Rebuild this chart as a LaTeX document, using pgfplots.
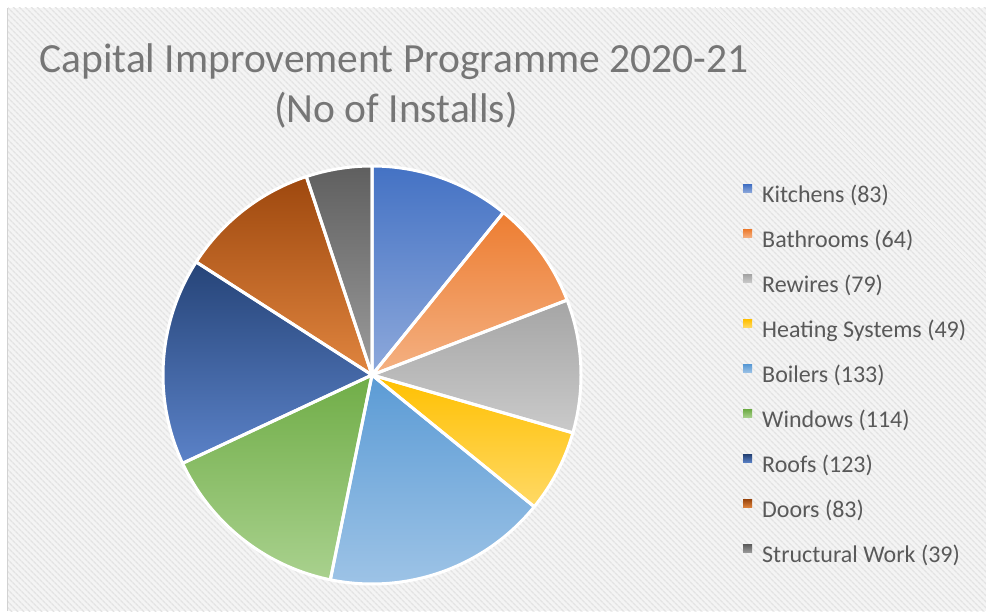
\documentclass[border=0pt]{standalone}
\usepackage{pgfplots}
\pgfplotsset{compat=1.18}
\usepackage{pgfplotstable}
\usepackage{fontspec}
\setmainfont{Carlito}
\usetikzlibrary{patterns.meta}

\definecolor{c0t}{HTML}{4472C4}\definecolor{c0b}{HTML}{8EA9DB}
\definecolor{c1t}{HTML}{ED7D31}\definecolor{c1b}{HTML}{F4B183}
\definecolor{c2t}{HTML}{A5A5A5}\definecolor{c2b}{HTML}{CACACA}
\definecolor{c3t}{HTML}{FFC000}\definecolor{c3b}{HTML}{FFD966}
\definecolor{c4t}{HTML}{5B9BD5}\definecolor{c4b}{HTML}{9DC3E6}
\definecolor{c5t}{HTML}{70AD47}\definecolor{c5b}{HTML}{A9D18E}
\definecolor{c6t}{HTML}{264478}\definecolor{c6b}{HTML}{5B82C8}
\definecolor{c7t}{HTML}{9E480E}\definecolor{c7b}{HTML}{E0853F}
\definecolor{c8t}{HTML}{5F5F5F}\definecolor{c8b}{HTML}{9C9C9C}
\definecolor{bgc}{HTML}{F4F4F4}
\definecolor{stripe}{HTML}{E3E3E3}
\definecolor{titlec}{HTML}{767676}
\definecolor{lgtext}{HTML}{595959}

\pgfplotstableread[col sep=comma]{
name,count
Kitchens,83
Bathrooms,64
Rewires,79
Heating Systems,49
Boilers,133
Windows,114
Roofs,123
Doors,83
Structural Work,39
}\piedata

\gdef\pietotal{0}
\pgfplotstableforeachcolumnelement{count}\of\piedata\as\cval{%
  \pgfmathsetmacro\pieTmp{\pietotal+\cval}\xdef\pietotal{\pieTmp}}
\gdef\piecum{0}
\pgfplotstableforeachcolumnelement{count}\of\piedata\as\cval{%
  \pgfmathsetmacro\pieTmpS{90-360*(\piecum/\pietotal)}%
  \pgfmathsetmacro\pieTmpN{\piecum+\cval}%
  \pgfmathsetmacro\pieTmpE{90-360*(\pieTmpN/\pietotal)}%
  \expandafter\xdef\csname pieS\pgfplotstablerow\endcsname{\pieTmpS}%
  \expandafter\xdef\csname pieE\pgfplotstablerow\endcsname{\pieTmpE}%
  \expandafter\xdef\csname pieC\pgfplotstablerow\endcsname{\cval}%
  \xdef\piecum{\pieTmpN}}
\pgfplotstableforeachcolumnelement{name}\of\piedata\as\nm{%
  \expandafter\xdef\csname pieN\pgfplotstablerow\endcsname{\nm}}

\pgfplotsset{
  pie/.style={draw=none, samples=150, variable=\t},
  pieborder/.style={draw=white, line width=3pt, line join=round, fill=none, samples=150, variable=\t},
}
\pgfplotsinvokeforeach{0,...,8}{\pgfplotsset{slice#1/.style={top color=c#1t, bottom color=c#1b}}}

\newcommand\pieslice[1]{%
  \edef\pieTmpCmd{\noexpand\addplot[pie, slice#1, domain=\csname pieE#1\endcsname:\csname pieS#1\endcsname]}%
  \pieTmpCmd ({372+209*cos(\t)},{236+209*sin(\t)}) -- (axis cs:372,236) -- cycle;
  \addlegendentry{\csname pieN#1\endcsname\ (\csname pieC#1\endcsname)}
}
\newcommand\pieedge[1]{%
  \edef\pieTmpCmd{\noexpand\addplot[pieborder, forget plot, domain=\csname pieE#1\endcsname:\csname pieS#1\endcsname]}%
  \pieTmpCmd ({372+209*cos(\t)},{236+209*sin(\t)}) -- (axis cs:372,236) -- cycle;
}

\begin{document}
\begin{tikzpicture}
\path[use as bounding box, fill=white] (0pt,0pt) rectangle (986pt,611pt);
\fill[fill=bgc, postaction={pattern={Lines[angle=-45,distance=4pt,line width=1.5pt]},pattern color=stripe}] (8pt,0pt) rectangle (986pt,603pt);
\draw[line width=1.2pt, draw=gray!35] (7.4pt,0pt) -- (7.4pt,603pt);
\begin{axis}[
  at={(0pt,0pt)}, anchor=south west,
  width=986pt, height=611pt, scale only axis,
  xmin=0, xmax=986, ymin=0, ymax=611,
  hide axis, clip=false,
  legend cell align=left,
  legend image code/.code={\path[#1, draw=none] (0pt,3pt) rectangle (9pt,11pt);},
  legend style={at={(axis cs:743,427)}, anchor=north west, draw=none, fill=none,
    inner sep=0pt, row sep=22pt, column sep=10pt,
    font=\fontsize{24}{28}\selectfont,
    nodes={inner sep=0pt, text height=18pt, text depth=5pt, text=lgtext}},
]
\pieslice{0}
\pieslice{1}
\pieslice{2}
\pieslice{3}
\pieslice{4}
\pieslice{5}
\pieslice{6}
\pieslice{7}
\pieslice{8}
\pieedge{0}
\pieedge{1}
\pieedge{2}
\pieedge{3}
\pieedge{4}
\pieedge{5}
\pieedge{6}
\pieedge{7}
\pieedge{8}
\end{axis}
\node[anchor=base, text=titlec, font=\fontsize{41.5}{50}\selectfont, inner sep=0pt] at (394pt,538pt) {Capital Improvement Programme 2020-21};
\node[anchor=base, text=titlec, font=\fontsize{41.5}{50}\selectfont, inner sep=0pt] at (396pt,488pt) {(No of Installs)};
\end{tikzpicture}
\end{document}
